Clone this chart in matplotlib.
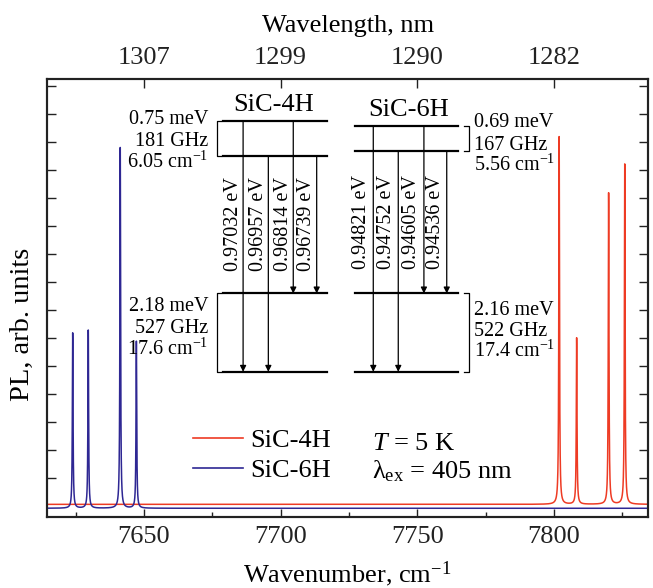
import numpy as np
import matplotlib
matplotlib.use("Agg")
import matplotlib.pyplot as plt
from matplotlib.lines import Line2D

plt.rcParams['font.family'] = ['Liberation Serif', 'DejaVu Serif']
plt.rcParams['mathtext.fontset'] = 'custom'
plt.rcParams['mathtext.rm'] = 'Liberation Serif'
plt.rcParams['mathtext.it'] = 'Liberation Serif:italic'

# ---------------- data ----------------
series_names = ["SiC-4H", "SiC-6H"]
series_colors = ["#ee3b24", "#2e2793"]

peaks_4H_wn = [7801.9, 7808.3, 7820.0, 7825.9]      # cm^-1
peaks_4H_h = [1.313, 0.594, 1.112, 1.215]
baseline_4H = 0.007

peaks_6H_wn = [7623.9, 7629.6, 7641.3, 7647.2]
peaks_6H_h = [0.626, 0.636, 1.288, 0.596]
baseline_6H = -0.007

peak_hwhm = 0.15

x_limits = [7614.6, 7834.4]
x_major = [7650, 7700, 7750, 7800]
x_minor = [7625, 7675, 7725, 7775, 7825]
y_ticks = [0.1, 0.2, 0.3, 0.4, 0.5, 0.6, 0.7, 0.8, 0.9, 1.0, 1.1, 1.2, 1.3, 1.4, 1.5]
y_limits = [-0.037, 1.526]

levels_4H_labels = ["0.97032 eV", "0.96957 eV", "0.96814 eV", "0.96739 eV"]
levels_6H_labels = ["0.94821 eV", "0.94752 eV", "0.94605 eV", "0.94536 eV"]
split_4H_top = ["0.75 meV", "181 GHz", "6.05 cm$^{-1}$"]
split_4H_bot = ["2.18 meV", "527 GHz", "17.6 cm$^{-1}$"]
split_6H_top = ["0.69 meV", "167 GHz", "5.56 cm$^{-1}$"]
split_6H_bot = ["2.16 meV", "522 GHz", "17.4 cm$^{-1}$"]


def spectrum(x, centers, heights, base, g):
    y = np.full_like(x, base)
    for c, h in zip(centers, heights):
        y += h * g**2 / ((x - c) ** 2 + g**2)
    return y


# ---------------- figure ----------------
fig = plt.figure(figsize=(6.53, 5.88), dpi=100)
ax = fig.add_axes([0.0724, 0.1213, 0.9199, 0.7443])

x = np.arange(x_limits[0], x_limits[1], 0.01)
ax.plot(x, spectrum(x, peaks_4H_wn, peaks_4H_h, baseline_4H, peak_hwhm),
        color=series_colors[0], lw=1.1, zorder=2)
ax.plot(x, spectrum(x, peaks_6H_wn, peaks_6H_h, baseline_6H, peak_hwhm),
        color=series_colors[1], lw=1.1, zorder=3)

ax.set_xlim(x_limits)
ax.set_ylim(y_limits)
ax.set_xticks(x_major)
ax.set_xticks(x_minor, minor=True)
ax.set_xticklabels([str(v) for v in x_major])
ax.set_yticks(y_ticks)
ax.set_yticklabels([])
ax.tick_params(axis='both', which='both', direction='in', width=1.0,
               labelsize=19, colors='#222222')
ax.tick_params(axis='x', which='major', length=6, top=False, pad=7)
ax.tick_params(axis='x', which='minor', length=3.5, top=False)
ax.tick_params(axis='y', which='major', length=6.5, left=True, right=True)
for s in ax.spines.values():
    s.set_linewidth(1.5)
    s.set_color('#222222')

ax.set_xlabel("Wavenumber, cm$^{-1}$", fontsize=19, labelpad=8)
ax.set_ylabel("PL, arb. units", fontsize=20.5)
ax.yaxis.set_label_coords(-0.02, 0.44)

# top axis: wavelength
axt = ax.twiny()
axt.set_xlim(x_limits)
axt.set_xticks(x_major)
axt.set_xticklabels([f"{1e7 / v:.0f}" for v in x_major])
axt.tick_params(axis='x', direction='in', length=6.5, width=1.0,
                labelsize=19, pad=7, colors='#222222')
axt.set_xlabel("Wavelength, nm", fontsize=19, labelpad=11)
for s in axt.spines.values():
    s.set_linewidth(1.5)
    s.set_color('#222222')

# ---------------- level diagrams (axes fraction coords) ----------------
T = ax.transAxes
fs_small = 14.5
lw_lev = 1.6


def hline(x0, x1, y):
    ax.add_line(Line2D([x0, x1], [y, y], transform=T, color='k', lw=lw_lev, zorder=4))


def arrow(xa, y0, y1):
    ax.annotate("", xy=(xa, y1), xytext=(xa, y0), xycoords=T, textcoords=T,
                arrowprops=dict(arrowstyle='-|>', lw=0.9, color='k',
                                mutation_scale=9, shrinkA=0, shrinkB=0), zorder=4)


def bracket(xb, y0, y1, side):
    d = 0.008 if side == 'left' else -0.008
    ax.add_line(Line2D([xb + d, xb, xb, xb + d], [y0, y0, y1, y1], transform=T,
                       color='k', lw=0.9, zorder=4))


# SiC-4H
lx0, lx1 = 0.292, 0.465
ly = [0.905, 0.823, 0.510, 0.331]
for yy in ly:
    hline(lx0, lx1, yy)
ax.text(0.3766, 0.940, "SiC-4H", transform=T, ha='center', va='center', fontsize=19)
arr_x = [0.326, 0.368, 0.4095, 0.4485]
arr_y = [(ly[0], ly[3]), (ly[1], ly[3]), (ly[0], ly[2]), (ly[1], ly[2])]
lab_x = [0.310, 0.351, 0.393, 0.432]
for xa, (y0, y1), xl, lab in zip(arr_x, arr_y, lab_x, levels_4H_labels):
    arrow(xa, y0, y1)
    ax.text(xl, 0.669, lab, transform=T, rotation=90, ha='center', va='center',
            fontsize=fs_small)
bracket(0.282, ly[0], ly[1], 'left')
bracket(0.282, ly[2], ly[3], 'left')
for yy, s in zip([0.908, 0.857, 0.809], split_4H_top):
    ax.text(0.268, yy, s, transform=T, ha='right', va='center', fontsize=fs_small)
for yy, s in zip([0.480, 0.430, 0.382], split_4H_bot):
    ax.text(0.268, yy, s, transform=T, ha='right', va='center', fontsize=fs_small)

# SiC-6H
lx0, lx1 = 0.512, 0.684
ly = [0.893, 0.836, 0.510, 0.331]
for yy in ly:
    hline(lx0, lx1, yy)
ax.text(0.601, 0.929, "SiC-6H", transform=T, ha='center', va='center', fontsize=19)
arr_x = [0.5427, 0.5843, 0.627, 0.665]
arr_y = [(ly[0], ly[3]), (ly[1], ly[3]), (ly[0], ly[2]), (ly[1], ly[2])]
lab_x = [0.5234, 0.565, 0.6066, 0.647]
for xa, (y0, y1), xl, lab in zip(arr_x, arr_y, lab_x, levels_6H_labels):
    arrow(xa, y0, y1)
    ax.text(xl, 0.673, lab, transform=T, rotation=90, ha='center', va='center',
            fontsize=fs_small)
bracket(0.7025, ly[0], ly[1], 'right')
bracket(0.7025, ly[2], ly[3], 'right')
for yy, s in zip([0.900, 0.849, 0.8035], split_6H_top):
    ax.text(0.7104, yy, s, transform=T, ha='left', va='center', fontsize=fs_small)
for yy, s in zip([0.472, 0.4227, 0.377], split_6H_bot):
    ax.text(0.7104, yy, s, transform=T, ha='left', va='center', fontsize=fs_small)

# ---------------- legend & conditions ----------------
handles = [Line2D([], [], color=c, lw=1.2) for c in series_colors]
ax.legend(handles, series_names, loc='center left', bbox_to_anchor=(0.243, 0.140),
          frameon=False, fontsize=19, handlelength=1.9, handletextpad=0.25,
          labelspacing=0.25, borderpad=0, borderaxespad=0)
ax.text(0.540, 0.167, "$T$ = 5 K", transform=T, ha='left', va='center', fontsize=19)
ax.text(0.540, 0.103, "λ$_\\mathrm{ex}$ = 405 nm", transform=T, ha='left', va='center',
        fontsize=19)

fig.savefig("out.png", dpi=100)
